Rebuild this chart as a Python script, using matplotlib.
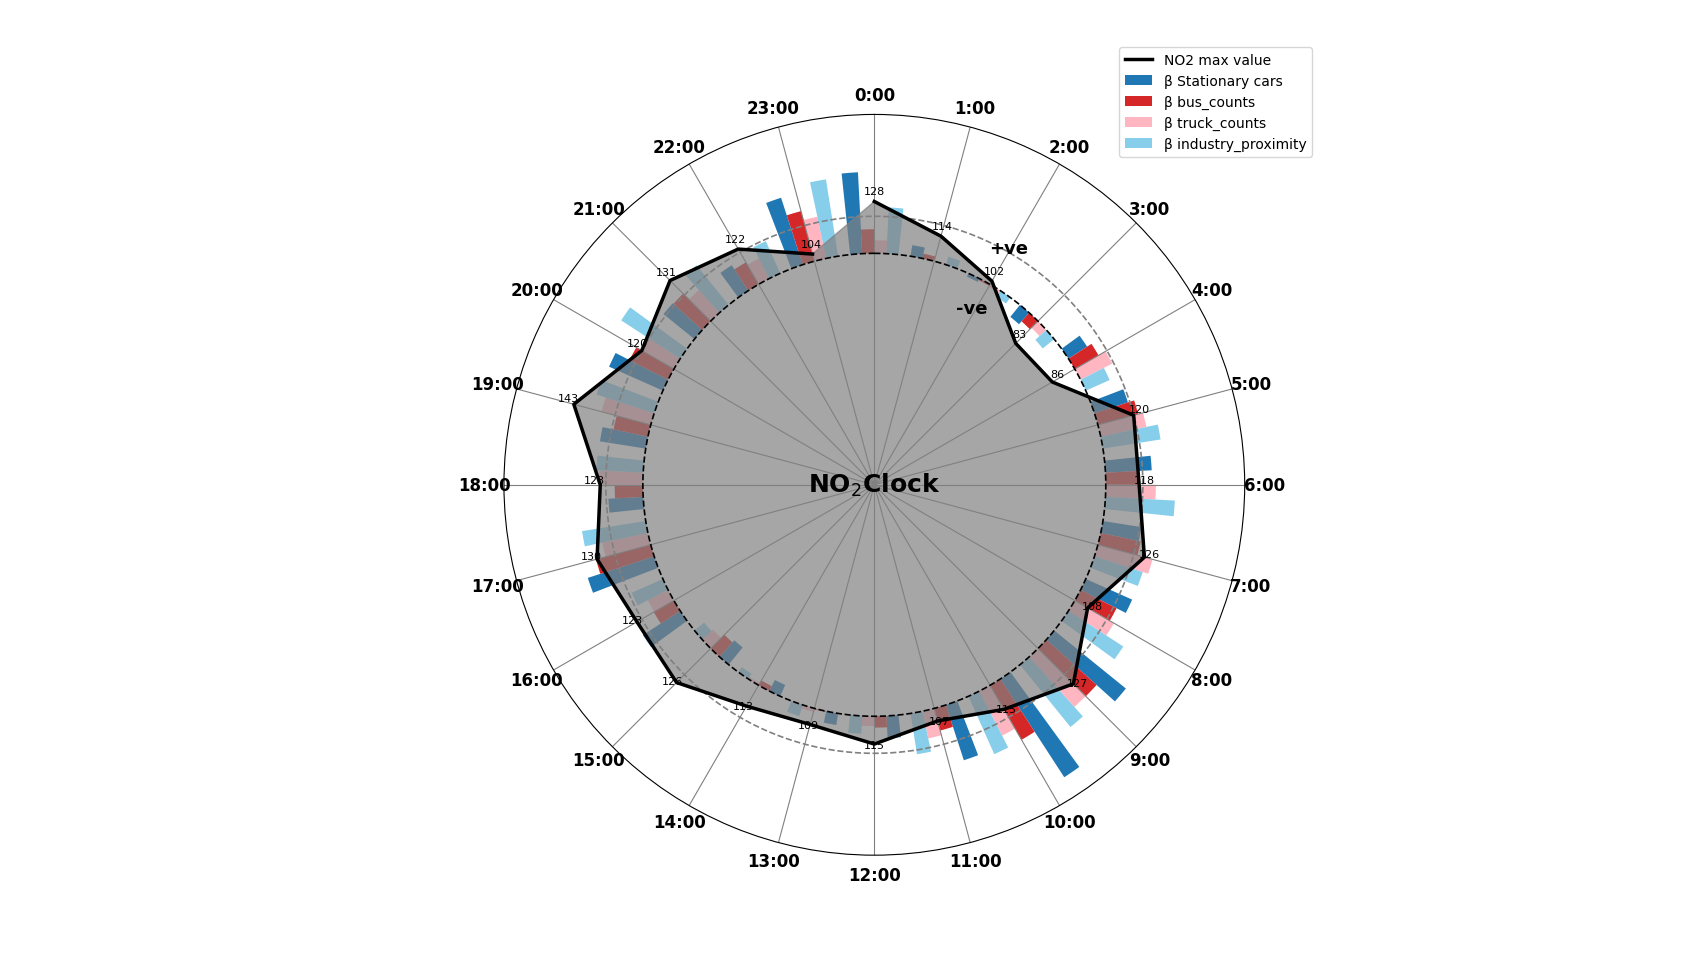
import numpy as np
import matplotlib
matplotlib.use('Agg')
import matplotlib.pyplot as plt

# hours and NO2 max value per hour
hours = list(range(24))
hour_labels = [f"{h}:00" for h in hours]
no2_max = [128, 114, 102, 83, 86, 120, 118, 126, 108, 127, 115, 107,
           115, 109, 113, 126, 123, 130, 123, 143, 120, 131, 122, 104]

# beta coefficients per hour
beta_stationary = [0.44, 0.06, -0.02, -0.083, 0.12, 0.19, 0.25, 0.21, 0.274, 0.498, 0.633, 0.314,
                   0.12, 0.063, -0.067, -0.12, 0.24, 0.377, 0.188, 0.25, 0.318, 0.215, 0.164, 0.38]
beta_bus = [0.13, 0.026, -0.01, -0.062, 0.148, 0.225, 0.17, 0.22, 0.218, 0.365, 0.34, 0.124,
            0.061, 0.005, -0.03, -0.105, 0.125, 0.306, 0.152, 0.19, 0.234, 0.21, 0.137, 0.28]
beta_truck = [0.07, 0.005, -0.015, -0.05, 0.192, 0.252, 0.27, 0.305, 0.244, 0.364, 0.27, 0.15,
              0.053, 0.02, -0.012, -0.08, 0.122, 0.252, 0.236, 0.275, 0.203, 0.165, 0.121, 0.23]
beta_industry = [0.25, 0.045, -0.04, -0.08, 0.141, 0.315, 0.375, 0.274, 0.353, 0.433, 0.342, 0.223,
                 0.096, 0.063, -0.033, -0.068, 0.184, 0.348, 0.253, 0.327, 0.38, 0.275, 0.19, 0.42]

series = [
    (beta_stationary, '#1f77b4', 'β Stationary cars'),
    (beta_bus, '#d62728', 'β bus_counts'),
    (beta_truck, '#ffb6c1', 'β truck_counts'),
    (beta_industry, '#87ceeb', 'β industry_proximity'),
]

baseline = 100
scale = 100

theta = np.array(hours) * 2 * np.pi / 24
width = 2 * np.pi / 24 / 5

fig = plt.figure(figsize=(17.06, 9.62), dpi=100)
ax = fig.add_subplot(111, projection='polar')
ax.set_theta_zero_location('N')
ax.set_theta_direction(-1)

# NO2 line (not closed)
ax.plot(theta, no2_max, color='black', lw=2.5, label='NO2 max value', zorder=3)

# beta bars starting at the baseline circle
for i, (vals, col, lab) in enumerate(series):
    off = (i - 1.5) * width
    ax.bar(theta + off, np.array(vals) * scale, width=width, bottom=baseline,
           color=col, label=lab, zorder=1)

# filled NO2 area over the bars
ax.fill(theta, no2_max, color='gray', alpha=0.7, zorder=1)

# reference circles
circ = np.linspace(0, 2 * np.pi, 500)
ax.plot(circ, np.full_like(circ, baseline), color='black', ls='--', lw=1.2, zorder=2)
ax.plot(circ, np.full_like(circ, 120), color='gray', ls='--', lw=1.2, zorder=2)

# value labels
for t, v in zip(theta, no2_max):
    ax.text(t, v + 3, str(v), ha='center', va='bottom', fontsize=8)

ax.text(np.deg2rad(29.5), 122, '+ve', ha='center', va='center', fontsize=13, fontweight='bold')
ax.text(np.deg2rad(29), 84, '-ve', ha='center', va='center', fontsize=13, fontweight='bold')
ax.text(0, -25, 'NO$_2$Clock', ha='center', va='center', fontsize=18, fontweight='bold')

ax.set_ylim(-25, 175)
ax.set_yticks([])
ax.set_xticks(theta)
ax.set_xticklabels(hour_labels, fontsize=12, fontweight='bold')
ax.xaxis.grid(True, color='gray', lw=0.8)
ax.yaxis.grid(False)

ax.legend(loc='upper right', bbox_to_anchor=(1.1, 1.1))

plt.savefig('out.png', dpi=100)
